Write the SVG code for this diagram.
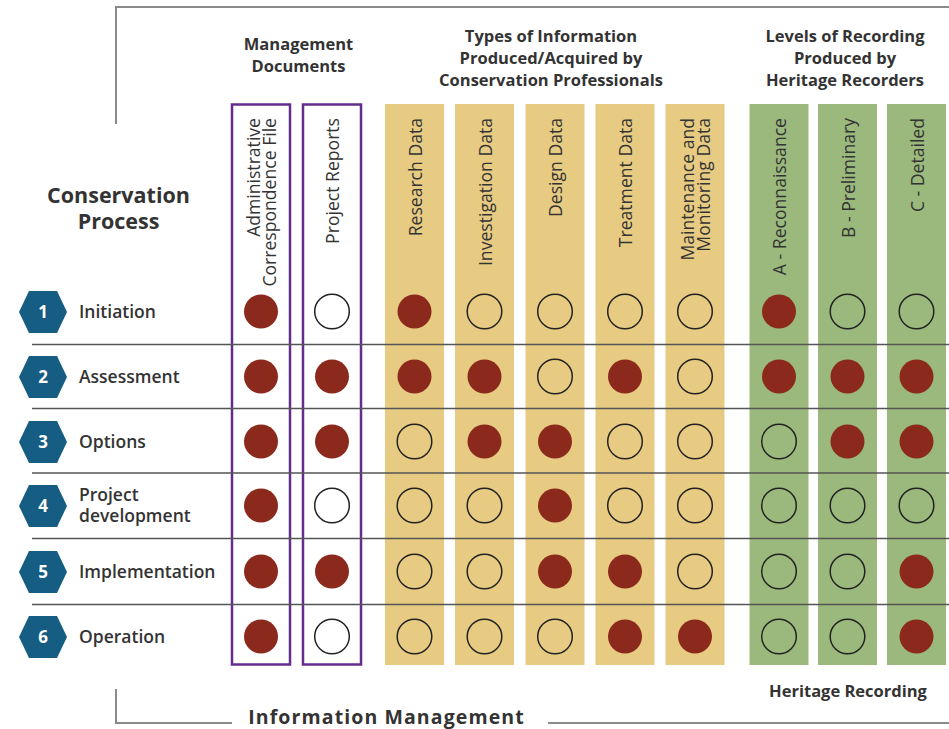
<svg xmlns="http://www.w3.org/2000/svg" width="949" height="729" viewBox="0 0 949 729">
<style>
.hdr{font-family:"Open Sans","Liberation Sans",sans-serif;font-weight:700;font-size:16.5px;fill:#333;text-anchor:middle}
.col{font-family:"Open Sans","Liberation Sans",sans-serif;font-size:17.6px;fill:#333;text-anchor:end}
.lbl{font-family:"Open Sans","Liberation Sans",sans-serif;font-weight:600;font-size:17.5px;fill:#333}
.num{font-family:"Open Sans","Liberation Sans",sans-serif;font-weight:700;font-size:17px;fill:#fff;text-anchor:middle}
.tan{fill:#E8CB82}
.grn{fill:#9BB97D}
.pur{fill:#fff;stroke:#642D8C;stroke-width:2.5}
.hex{fill:#155D82}
.f{fill:#8B2A1C}
.o{fill:none;stroke:#222;stroke-width:1.5}
.frame{fill:none;stroke:#8a8a8a;stroke-width:2}
.row{stroke:#555;stroke-width:1.3}
</style>
<defs>
<polygon id="hx" points="-24,0 -14,-21 14,-21 24,0 14,21 -14,21"/>
</defs>

<g id="frame">
<polyline class="frame" points="116,124 116,7 949,7"/>
<polyline class="frame" points="116,689 116,723 232,723"/>
<line class="frame" x1="548" y1="723" x2="949" y2="723"/>
</g>

<g id="headers">
<text class="hdr" x="298.5" y="50">Management</text>
<text class="hdr" x="298.5" y="72">Documents</text>
<text class="hdr" x="551" y="42">Types of Information</text>
<text class="hdr" x="551" y="64">Produced/Acquired by</text>
<text class="hdr" x="551" y="86">Conservation Professionals</text>
<text class="hdr" x="845" y="42">Levels of Recording</text>
<text class="hdr" x="845" y="64">Produced by</text>
<text class="hdr" x="845" y="86">Heritage Recorders</text>
<text class="hdr" x="118.5" y="203" style="font-size:21.5px">Conservation</text>
<text class="hdr" x="118.5" y="229" style="font-size:21.5px">Process</text>
<text class="hdr" x="848" y="697">Heritage Recording</text>
<text class="hdr" x="386.5" y="723.5" style="font-size:19.5px;letter-spacing:1.1px">Information Management</text>
</g>

<g id="columns">
<rect class="pur" x="232" y="104.5" width="58" height="560"/>
<rect class="pur" x="303" y="104.5" width="58" height="560"/>
<rect class="tan" x="385" y="104" width="59" height="561"/>
<rect class="tan" x="455" y="104" width="59" height="561"/>
<rect class="tan" x="525.5" y="104" width="59" height="561"/>
<rect class="tan" x="595.5" y="104" width="59" height="561"/>
<rect class="tan" x="665.5" y="104" width="59" height="561"/>
<rect class="grn" x="749.5" y="104" width="59" height="561"/>
<rect class="grn" x="818" y="104" width="59" height="561"/>
<rect class="grn" x="887" y="104" width="59" height="561"/>
</g>

<g id="column-labels">
<g transform="translate(0,118) rotate(-90)">
<text class="col" x="0" y="260">Administrative</text>
<text class="col" x="0" y="276">Correspondence File</text>
<text class="col" x="0" y="339">Project Reports</text>
<text class="col" x="0" y="422">Research Data</text>
<text class="col" x="0" y="492">Investigation Data</text>
<text class="col" x="0" y="562">Design Data</text>
<text class="col" x="0" y="632">Treatment Data</text>
<text class="col" x="0" y="694">Maintenance and</text>
<text class="col" x="0" y="710">Monitoring Data</text>
<text class="col" x="0" y="786">A - Reconnaissance</text>
<text class="col" x="0" y="855">B - Preliminary</text>
<text class="col" x="0" y="924">C - Detailed</text>
</g>
</g>

<g id="row-lines">
<line class="row" x1="32" y1="344.5" x2="949" y2="344.5"/>
<line class="row" x1="32" y1="408.5" x2="949" y2="408.5"/>
<line class="row" x1="32" y1="473" x2="949" y2="473"/>
<line class="row" x1="32" y1="538.5" x2="949" y2="538.5"/>
<line class="row" x1="32" y1="604.5" x2="949" y2="604.5"/>
</g>

<g id="step-1">
<use href="#hx" class="hex" x="43" y="312"/>
<text class="num" x="43" y="318">1</text>
<text class="lbl" x="79" y="318">Initiation</text>
</g>
<g id="step-2">
<use href="#hx" class="hex" x="43" y="377"/>
<text class="num" x="43" y="383">2</text>
<text class="lbl" x="79" y="383">Assessment</text>
</g>
<g id="step-3">
<use href="#hx" class="hex" x="43" y="442"/>
<text class="num" x="43" y="448">3</text>
<text class="lbl" x="79" y="448">Options</text>
</g>
<g id="step-4">
<use href="#hx" class="hex" x="43" y="506"/>
<text class="num" x="43" y="512">4</text>
<text class="lbl" x="79" y="501">Project</text>
<text class="lbl" x="79" y="522">development</text>
</g>
<g id="step-5">
<use href="#hx" class="hex" x="43" y="572"/>
<text class="num" x="43" y="578">5</text>
<text class="lbl" x="79" y="578">Implementation</text>
</g>
<g id="step-6">
<use href="#hx" class="hex" x="43" y="637"/>
<text class="num" x="43" y="643">6</text>
<text class="lbl" x="79" y="643">Operation</text>
</g>

<g id="dots">
<!-- row 1 -->
<circle class="f" cx="261" cy="311.5" r="17"/>
<circle class="o" cx="332" cy="311.5" r="17.3"/>
<circle class="f" cx="414.5" cy="311.5" r="17"/>
<circle class="o" cx="484.5" cy="311.5" r="17.3"/>
<circle class="o" cx="555" cy="311.5" r="17.3"/>
<circle class="o" cx="625" cy="311.5" r="17.3"/>
<circle class="o" cx="695" cy="311.5" r="17.3"/>
<circle class="f" cx="779" cy="311.5" r="17"/>
<circle class="o" cx="847.5" cy="311.5" r="17.3"/>
<circle class="o" cx="916.5" cy="311.5" r="17.3"/>
<!-- row 2 -->
<circle class="f" cx="261" cy="376.5" r="17"/>
<circle class="f" cx="332" cy="376.5" r="17"/>
<circle class="f" cx="414.5" cy="376.5" r="17"/>
<circle class="f" cx="484.5" cy="376.5" r="17"/>
<circle class="o" cx="555" cy="376.5" r="17.3"/>
<circle class="f" cx="625" cy="376.5" r="17"/>
<circle class="o" cx="695" cy="376.5" r="17.3"/>
<circle class="f" cx="779" cy="376.5" r="17"/>
<circle class="f" cx="847.5" cy="376.5" r="17"/>
<circle class="f" cx="916.5" cy="376.5" r="17"/>
<!-- row 3 -->
<circle class="f" cx="261" cy="441.5" r="17"/>
<circle class="f" cx="332" cy="441.5" r="17"/>
<circle class="o" cx="414.5" cy="441.5" r="17.3"/>
<circle class="f" cx="484.5" cy="441.5" r="17"/>
<circle class="f" cx="555" cy="441.5" r="17"/>
<circle class="o" cx="625" cy="441.5" r="17.3"/>
<circle class="o" cx="695" cy="441.5" r="17.3"/>
<circle class="o" cx="779" cy="441.5" r="17.3"/>
<circle class="f" cx="847.5" cy="441.5" r="17"/>
<circle class="f" cx="916.5" cy="441.5" r="17"/>
<!-- row 4 -->
<circle class="f" cx="261" cy="505.5" r="17"/>
<circle class="o" cx="332" cy="505.5" r="17.3"/>
<circle class="o" cx="414.5" cy="505.5" r="17.3"/>
<circle class="o" cx="484.5" cy="505.5" r="17.3"/>
<circle class="f" cx="555" cy="505.5" r="17"/>
<circle class="o" cx="625" cy="505.5" r="17.3"/>
<circle class="o" cx="695" cy="505.5" r="17.3"/>
<circle class="o" cx="779" cy="505.5" r="17.3"/>
<circle class="o" cx="847.5" cy="505.5" r="17.3"/>
<circle class="o" cx="916.5" cy="505.5" r="17.3"/>
<!-- row 5 -->
<circle class="f" cx="261" cy="571.5" r="17"/>
<circle class="f" cx="332" cy="571.5" r="17"/>
<circle class="o" cx="414.5" cy="571.5" r="17.3"/>
<circle class="o" cx="484.5" cy="571.5" r="17.3"/>
<circle class="f" cx="555" cy="571.5" r="17"/>
<circle class="f" cx="625" cy="571.5" r="17"/>
<circle class="o" cx="695" cy="571.5" r="17.3"/>
<circle class="o" cx="779" cy="571.5" r="17.3"/>
<circle class="o" cx="847.5" cy="571.5" r="17.3"/>
<circle class="f" cx="916.5" cy="571.5" r="17"/>
<!-- row 6 -->
<circle class="f" cx="261" cy="636.5" r="17"/>
<circle class="o" cx="332" cy="636.5" r="17.3"/>
<circle class="o" cx="414.5" cy="636.5" r="17.3"/>
<circle class="o" cx="484.5" cy="636.5" r="17.3"/>
<circle class="o" cx="555" cy="636.5" r="17.3"/>
<circle class="f" cx="625" cy="636.5" r="17"/>
<circle class="f" cx="695" cy="636.5" r="17"/>
<circle class="o" cx="779" cy="636.5" r="17.3"/>
<circle class="o" cx="847.5" cy="636.5" r="17.3"/>
<circle class="f" cx="916.5" cy="636.5" r="17"/>
</g>
</svg>
